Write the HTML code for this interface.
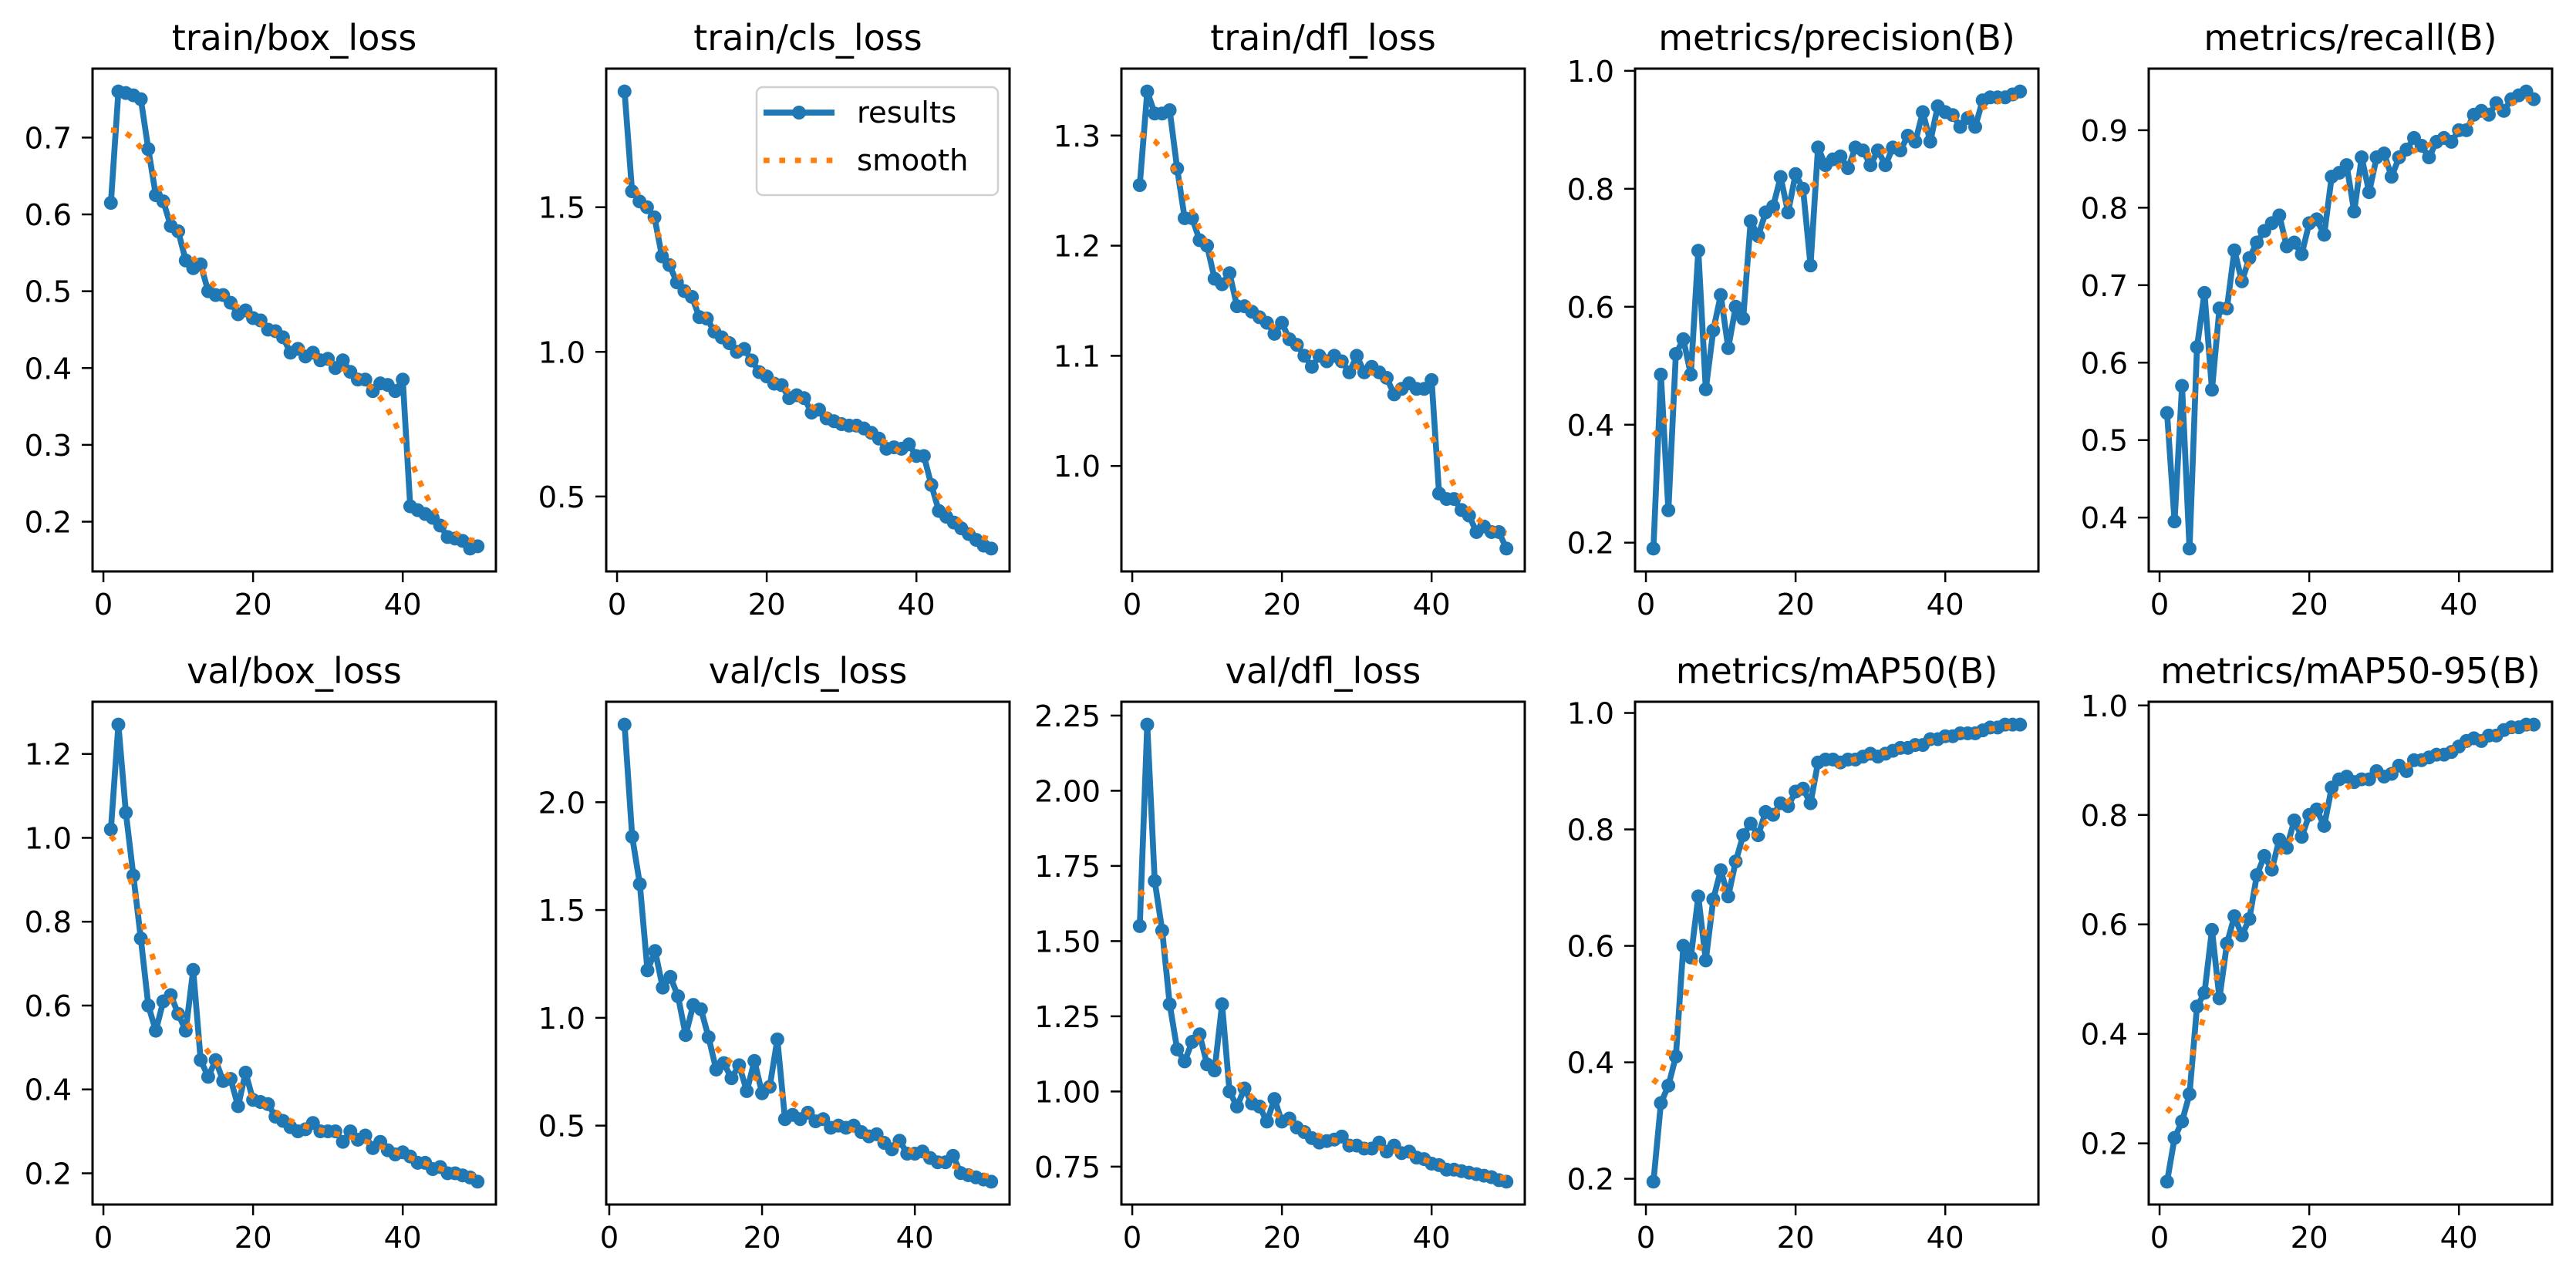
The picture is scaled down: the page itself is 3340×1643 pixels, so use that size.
<!DOCTYPE html>
<html><head><meta charset="utf-8"><style>
html,body{margin:0;padding:0;background:#fff;}
svg{display:block;font-family:"DejaVu Sans","Liberation Sans",sans-serif;}
</style></head><body>
<svg id="fig" width="3340" height="1643" viewBox="0 0 3340 1643" xmlns="http://www.w3.org/2000/svg">
<rect width="3340" height="1643" fill="#fff"/>
</svg>
<script>
const titles = ["train/box_loss","train/cls_loss","train/dfl_loss","metrics/precision(B)","metrics/recall(B)","val/box_loss","val/cls_loss","val/dfl_loss","metrics/mAP50(B)","metrics/mAP50-95(B)"];
const trainBox = [0.615,0.76,0.758,0.755,0.75,0.685,0.625,0.617,0.585,0.578,0.54,0.53,0.535,0.5,0.495,0.495,0.485,0.47,0.475,0.465,0.462,0.45,0.448,0.44,0.42,0.425,0.415,0.42,0.41,0.412,0.4,0.41,0.395,0.385,0.385,0.37,0.38,0.378,0.37,0.385,0.22,0.215,0.21,0.205,0.195,0.18,0.178,0.175,0.165,0.168];
const trainCls = [1.9,1.555,1.52,1.5,1.465,1.33,1.3,1.24,1.21,1.19,1.12,1.115,1.07,1.05,1.03,1.0,1.01,0.97,0.93,0.915,0.89,0.885,0.84,0.85,0.84,0.79,0.8,0.77,0.76,0.75,0.745,0.745,0.735,0.72,0.7,0.665,0.67,0.665,0.68,0.64,0.64,0.54,0.45,0.43,0.41,0.39,0.37,0.35,0.33,0.32];
const trainDfl = [1.255,1.34,1.32,1.32,1.323,1.27,1.225,1.225,1.205,1.2,1.17,1.165,1.175,1.145,1.145,1.14,1.135,1.13,1.12,1.13,1.115,1.11,1.1,1.09,1.1,1.095,1.1,1.095,1.085,1.1,1.085,1.09,1.085,1.08,1.065,1.07,1.075,1.07,1.07,1.078,0.975,0.97,0.97,0.96,0.955,0.94,0.945,0.94,0.94,0.925];
const precision = [0.19,0.485,0.255,0.52,0.545,0.485,0.695,0.46,0.56,0.62,0.53,0.6,0.58,0.745,0.72,0.76,0.77,0.82,0.76,0.825,0.8,0.67,0.87,0.84,0.85,0.855,0.835,0.87,0.865,0.84,0.865,0.84,0.87,0.865,0.89,0.88,0.93,0.88,0.94,0.93,0.925,0.905,0.92,0.905,0.95,0.955,0.955,0.955,0.96,0.965];
const recall = [0.535,0.395,0.57,0.36,0.62,0.69,0.565,0.67,0.67,0.745,0.705,0.735,0.755,0.77,0.78,0.79,0.75,0.755,0.74,0.78,0.785,0.765,0.84,0.845,0.855,0.795,0.865,0.82,0.865,0.87,0.84,0.865,0.875,0.89,0.88,0.865,0.885,0.89,0.885,0.9,0.9,0.92,0.925,0.92,0.935,0.925,0.94,0.945,0.95,0.94];
const valBox = [1.02,1.27,1.06,0.91,0.76,0.6,0.54,0.61,0.625,0.58,0.54,0.685,0.47,0.43,0.47,0.42,0.425,0.36,0.44,0.375,0.37,0.365,0.335,0.325,0.31,0.3,0.305,0.32,0.3,0.3,0.3,0.275,0.3,0.28,0.29,0.26,0.275,0.255,0.245,0.25,0.24,0.225,0.225,0.21,0.215,0.2,0.2,0.195,0.19,0.18];
const valCls = [null,2.36,1.84,1.62,1.22,1.31,1.14,1.19,1.1,0.92,1.06,1.04,0.91,0.76,0.79,0.72,0.78,0.66,0.8,0.65,0.68,0.9,0.53,0.55,0.53,0.56,0.52,0.53,0.49,0.5,0.49,0.5,0.47,0.45,0.46,0.42,0.39,0.43,0.37,0.37,0.38,0.35,0.33,0.33,0.36,0.28,0.27,0.26,0.25,0.24];
const valDfl = [1.55,2.22,1.7,1.535,1.29,1.14,1.1,1.165,1.19,1.09,1.07,1.29,1.0,0.95,1.01,0.96,0.95,0.9,0.975,0.9,0.91,0.88,0.865,0.845,0.83,0.835,0.84,0.85,0.82,0.82,0.81,0.81,0.83,0.8,0.82,0.795,0.8,0.78,0.775,0.76,0.755,0.74,0.74,0.735,0.73,0.725,0.72,0.715,0.705,0.7];
const mAP50 = [0.195,0.33,0.36,0.41,0.6,0.58,0.685,0.575,0.68,0.73,0.685,0.745,0.79,0.81,0.79,0.83,0.825,0.845,0.84,0.865,0.87,0.845,0.915,0.92,0.92,0.915,0.92,0.92,0.925,0.93,0.925,0.93,0.935,0.94,0.94,0.945,0.945,0.955,0.955,0.96,0.96,0.965,0.965,0.965,0.97,0.975,0.975,0.98,0.98,0.98];
const mAP5095 = [0.13,0.21,0.24,0.29,0.45,0.475,0.59,0.465,0.565,0.615,0.58,0.61,0.69,0.725,0.7,0.755,0.74,0.79,0.76,0.8,0.81,0.78,0.85,0.865,0.87,0.86,0.865,0.865,0.88,0.87,0.875,0.89,0.88,0.9,0.9,0.905,0.91,0.91,0.915,0.925,0.935,0.94,0.935,0.945,0.945,0.955,0.96,0.96,0.965,0.965];
const xTicks = [0,20,40];
const yTicks0 = [0.2,0.3,0.4,0.5,0.6,0.7];
const yTicks1 = [0.5,1.0,1.5];
const yTicks2 = [1.0,1.1,1.2,1.3];
const yTicks3 = [0.2,0.4,0.6,0.8,1.0];
const yTicks4 = [0.4,0.5,0.6,0.7,0.8,0.9];
const yTicks5 = [0.2,0.4,0.6,0.8,1.0,1.2];
const yTicks6 = [0.5,1.0,1.5,2.0];
const yTicks7 = [0.75,1.00,1.25,1.50,1.75,2.00,2.25];
const yTicks8 = [0.2,0.4,0.6,0.8,1.0];
const yTicks9 = [0.2,0.4,0.6,0.8,1.0];
const yDecimals = [1,1,1,1,1,1,1,2,1,1];

const series = [trainBox,trainCls,trainDfl,precision,recall,valBox,valCls,valDfl,mAP50,mAP5095];
const yTickSets = [yTicks0,yTicks1,yTicks2,yTicks3,yTicks4,yTicks5,yTicks6,yTicks7,yTicks8,yTicks9];
const NS = "http://www.w3.org/2000/svg";
const svg = document.getElementById('fig');
const LEFTS = [120,786,1454,2120,2786], TOPS = [89,910], W = 523, H = 652;

function el(tag, attrs, parent){
  const e = document.createElementNS(NS, tag);
  for (const k in attrs) e.setAttribute(k, attrs[k]);
  (parent||svg).appendChild(e);
  return e;
}
function gauss(y, sigma){
  const r = Math.round(4*sigma), w = [];
  let s = 0;
  for (let i=-r;i<=r;i++){ const v=Math.exp(-0.5*i*i/(sigma*sigma)); w.push(v); s+=v; }
  const n = y.length, out = [];
  const idx = j => { while (j<0||j>=n){ if (j<0) j=-j-1; if (j>=n) j=2*n-j-1; } return j; };
  for (let i=0;i<n;i++){
    let a=0, bad=false;
    for (let k=-r;k<=r;k++){ const v=y[idx(i+k)]; if (v===null||!isFinite(v)) { bad=true; break; } a+=w[k+r]*v; }
    out.push(bad?null:a/s);
  }
  return out;
}
const ok = v => v!==null && isFinite(v);

for (let p=0;p<10;p++){
  const y = series[p], n = y.length;
  const xs = y.map((_,i)=>1+i);
  const sm = gauss(y,3);
  const L = LEFTS[p%5], T = TOPS[Math.floor(p/5)];
  const g = el('g',{});
  
  
  const fx = xs.filter((x,i)=>ok(y[i]));
  const x0 = Math.min(...fx), x1 = Math.max(...fx), xm = (x1-x0)*0.05;
  const xmin = x0-xm, xmax = x1+xm;
  const all = y.concat(sm).filter(ok);
  const ymn = Math.min(...all), ymx = Math.max(...all), ym = (ymx-ymn)*0.05;
  const ymin = ymn-ym, ymax = ymx+ym;
  const sx = v => L + (v-xmin)/(xmax-xmin)*W;
  const sy = v => T + H - (v-ymin)/(ymax-ymin)*H;

  const title = el('text',{x:L+W/2, y:T-24, 'font-size':46, 'text-anchor':'middle', fill:'#000'}, g);
  title.textContent = titles[p];
  
  

  for (const t of xTicks){
    const X = sx(t);
    const tk = el('line',{x1:X,x2:X,y1:T+H,y2:T+H+14,stroke:'#000','stroke-width':2.5}, g);
    
    
    const lb = el('text',{x:X,y:T+H+56,'font-size':38.6,'text-anchor':'middle',fill:'#000'}, g);
    lb.textContent = String(t);
    
    
  }
  for (const t of yTickSets[p]){
    const Y = sy(t);
    if (Y < T-1 || Y > T+H+1) continue;
    const tk = el('line',{x1:L-14,x2:L,y1:Y,y2:Y,stroke:'#000','stroke-width':2.5}, g);
    
    
    const lb = el('text',{x:L-27,y:Y+14,'font-size':38.6,'text-anchor':'end',fill:'#000'}, g);
    lb.textContent = t.toFixed(yDecimals[p]);
    
    
  }
  const cp = el('clipPath',{id:'cp'+p}, g);
  el('rect',{x:L,y:T,width:W,height:H}, cp);
  const plot = el('g',{'clip-path':'url(#cp'+p+')'}, g);
  const pts = xs.map((x,i)=>ok(y[i])?sx(x).toFixed(1)+','+sy(y[i]).toFixed(1):null).filter(s=>s).join(' ');
  const line = el('polyline',{points:pts,fill:'none',stroke:'#1f77b4','stroke-width':7.7,'stroke-linejoin':'round'}, plot);
  
  
  for (let i=0;i<n;i++){
    if (!ok(y[i])) continue;
    const c = el('circle',{cx:sx(xs[i]),cy:sy(y[i]),r:9,fill:'#1f77b4'}, plot);
    
    
  }
  const spts = xs.map((x,i)=>ok(sm[i])?sx(x).toFixed(1)+','+sy(sm[i]).toFixed(1):null).filter(s=>s).join(' ');
  const sl = el('polyline',{points:spts,fill:'none',stroke:'#ff7f0e','stroke-width':7,'stroke-dasharray':'7.7 12.7'}, plot);
  
  

  const fr = el('rect',{x:L,y:T,width:W,height:H,fill:'none',stroke:'#000','stroke-width':3}, g);
  
  

  if (p===1){
    const lg = el('g',{}, g);
    
    
    el('rect',{x:L+195,y:T+24,width:313,height:140,rx:8,fill:'#fff','fill-opacity':0.8,stroke:'#d0d0d0','stroke-width':2.5}, lg);
    el('line',{x1:L+204,x2:L+296,y1:T+57,y2:T+57,stroke:'#1f77b4','stroke-width':7.7}, lg);
    el('circle',{cx:L+250,cy:T+57,r:9,fill:'#1f77b4'}, lg);
    const t1 = el('text',{x:L+325,y:T+70,'font-size':38.6,fill:'#000'}, lg);
    t1.textContent = 'results';
    
    
    el('line',{x1:L+204,x2:L+296,y1:T+119,y2:T+119,stroke:'#ff7f0e','stroke-width':7,'stroke-dasharray':'7.7 12.7'}, lg);
    const t2 = el('text',{x:L+325,y:T+132,'font-size':38.6,fill:'#000'}, lg);
    t2.textContent = 'smooth';
    
    
  }
}
</script>
</body></html>
